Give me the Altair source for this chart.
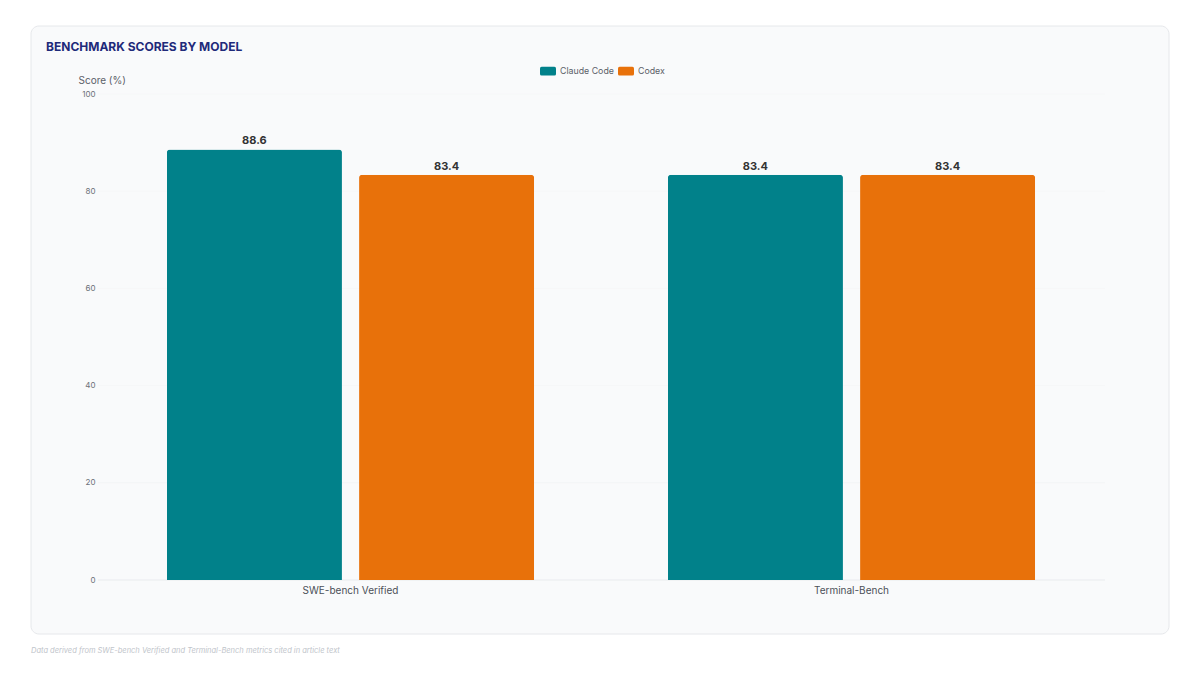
import altair as alt
import pandas as pd

benchmarks = ["SWE-bench Verified", "SWE-bench Verified", "Terminal-Bench", "Terminal-Bench"]
models = ["Claude Code", "Codex", "Claude Code", "Codex"]
scores = [88.6, 83.4, 83.4, 83.4]
model_order = ["Claude Code", "Codex"]
colors = ["#01818A", "#E8710A"]
y_ticks = [0, 20, 40, 60, 80, 100]
grid_colors = ["#e9ebee", "#f3f4f6", "#f6f7f8", "#f6f7f8", "#f6f7f8", "#f6f7f8"]

df = pd.DataFrame({"benchmark": benchmarks, "model": models, "score": scores})
grid_df = pd.DataFrame({"score": y_ticks, "gc": grid_colors})
one = pd.DataFrame({"a": [0]})

FONT = "Inter"

card = alt.Chart(one).mark_rect(
    fill="#f9fafb", stroke="#e6e8eb", strokeWidth=1, cornerRadius=8
).encode(
    x=alt.value(-69), x2=alt.value(1069), y=alt.value(-68), y2=alt.value(540)
)

title = alt.Chart(one).mark_text(
    text="BENCHMARK SCORES BY MODEL", font=FONT, fontSize=12, fontWeight="bold",
    color="#1f2a7a", align="left", baseline="middle"
).encode(x=alt.value(-54), y=alt.value(-47))

foot = alt.Chart(one).mark_text(
    text="Data derived from SWE-bench Verified and Terminal-Bench metrics cited in article text",
    font=FONT, fontSize=7.5, fontStyle="italic", color="#c0c4ca", align="left", baseline="middle"
).encode(x=alt.value(-69), y=alt.value(557))

yscale = alt.Scale(domain=[0, 100])

grid = alt.Chart(grid_df).mark_rule(strokeWidth=1).encode(
    y=alt.Y("score:Q", scale=yscale),
    x=alt.value(-2), x2=alt.value(1005),
    stroke=alt.Stroke("gc:N", scale=None, legend=None),
)

base = alt.Chart(df).encode(
    x=alt.X("benchmark:N", title=None, sort=None,
            scale=alt.Scale(paddingInner=0.267, paddingOuter=0.1335),
            axis=alt.Axis(labelAngle=0, domain=False, ticks=False, labelFontSize=10,
                          labelColor="#4b5058", labelFont=FONT, labelPadding=5, zindex=1)),
    xOffset=alt.XOffset("model:N", sort=model_order, scale=alt.Scale(paddingInner=0.089)),
    y=alt.Y("score:Q", scale=yscale,
            axis=alt.Axis(values=y_ticks, title="Score (%)", titleAngle=0,
                          titleX=-22, titleY=-14, titleAlign="left", titleBaseline="middle",
                          titleFont=FONT, titleFontSize=10, titleFontWeight="normal",
                          titleColor="#5b6068", domain=False, ticks=False, labelFontSize=8,
                          labelColor="#6b7078", labelFont=FONT, labelPadding=5,
                          grid=False, zindex=1)),
)

legend_shape = ("M-0.8,-0.55H0.8Q1,-0.55 1,-0.35V0.35Q1,0.55 0.8,0.55H-0.8"
                "Q-1,0.55 -1,0.35V-0.35Q-1,-0.55 -0.8,-0.55Z")

bars = base.mark_bar(cornerRadiusTopLeft=3, cornerRadiusTopRight=3).encode(
    color=alt.Color("model:N", sort=model_order,
                    scale=alt.Scale(domain=model_order, range=colors),
                    legend=alt.Legend(title=None, orient="none", legendX=440, legendY=-31,
                                      direction="horizontal",
                                      symbolType=legend_shape, symbolSize=256,
                                      symbolStrokeWidth=0, labelFont=FONT, labelFontSize=8.8,
                                      labelColor="#5b6068", columnPadding=4, symbolOffset=0,
                                      labelOffset=4))
)

labels = base.mark_text(dy=-8, font=FONT, fontSize=11, fontWeight="bold",
                        color="#333", baseline="middle").encode(
    text=alt.Text("score:Q", format=".1f")
)

chart = alt.layer(card, title, foot, grid, bars, labels).properties(
    width=1002, height=486,
    padding={"left": 92, "top": 86, "right": 90, "bottom": 87},
    autosize=alt.AutoSizeParams(type="none"),
    background="white",
).configure_view(stroke=None)

chart.save("out.html", embed_options={"renderer": "svg", "actions": False})
